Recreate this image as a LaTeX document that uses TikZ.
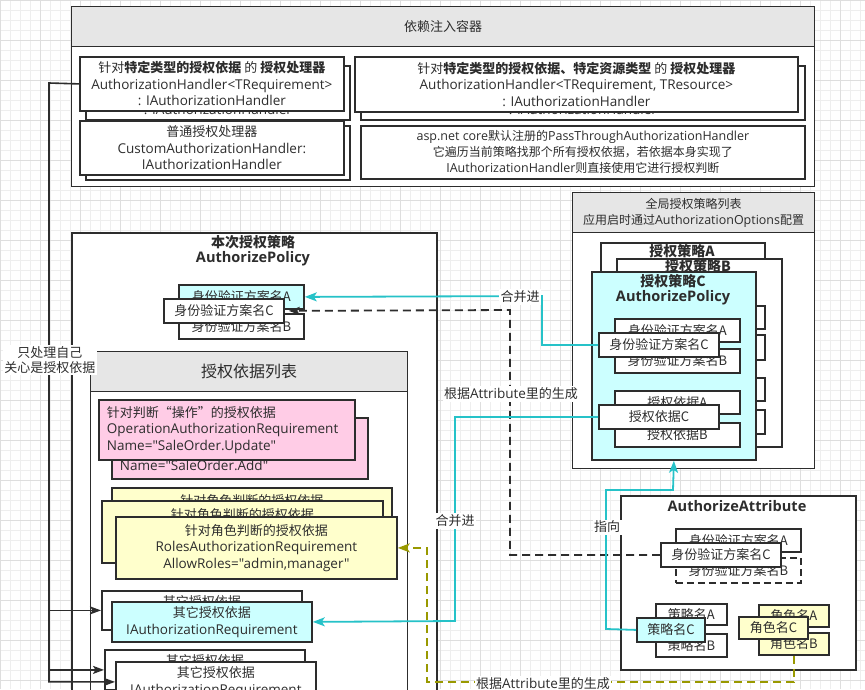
\documentclass[tikz,border=0pt]{standalone}
\usepackage{fontspec}
\setmainfont{Noto Sans CJK SC}
\newfontfamily\en{Open Sans}[Scale=1.04]
\usetikzlibrary{arrows.meta,calc}
\definecolor{ink}{RGB}{45,45,45}
\definecolor{hdr}{RGB}{230,230,230}
\definecolor{cybox}{RGB}{204,255,255}
\definecolor{pinkbox}{RGB}{255,204,230}
\definecolor{yelbox}{RGB}{255,255,204}
\definecolor{cyline}{RGB}{38,194,200}
\definecolor{olivel}{RGB}{153,153,0}
\definecolor{gridmin}{RGB}{238,238,238}
\definecolor{gridmaj}{RGB}{222,222,222}
\newcommand\EN[1]{{\en #1}}
\newcommand\bxn[6][]{\node[bx,minimum width=#4,minimum height=#5,#1] (#2) at (#3) {#6};}
\begin{document}
\begin{tikzpicture}[x=1pt,y=-1pt,
  every node/.style={font=\fontsize{13}{16.5}\selectfont, text=ink},
  bx/.style={draw=ink, line width=1.8pt, fill=white, anchor=north west, inner sep=0pt, align=center},
  ct/.style={draw=ink, line width=1.1pt, fill=white, anchor=north west, inner sep=0pt},
  hd/.style={draw=ink, line width=1.1pt, fill=hdr, anchor=north west, inner sep=0pt, align=center},
  ttl/.style={font=\fontsize{14}{17}\selectfont\bfseries, inner sep=0pt, align=center},
  lbl/.style={fill=white, inner sep=1.5pt, align=center},
  cyarr/.style={draw=cyline, line width=1.8pt, -{Stealth[length=12pt,width=9pt,inset=3pt]}},
  dkarr/.style={draw=ink, line width=1.6pt, -{Stealth[length=11pt,width=8pt,inset=2.5pt]}},
  dkdash/.style={draw=ink, line width=1.8pt, dash pattern=on 8pt off 5pt, -{Stealth[length=11pt,width=8pt,inset=2.5pt]}, shorten >=4pt},
  oldash/.style={draw=olivel, line width=1.8pt, dash pattern=on 8pt off 5pt, -{Stealth[length=12pt,width=9pt,inset=3pt]}},
  pinkl/.style={fill=pinkbox, align=left, text width=240pt, inner xsep=8pt}
]
\useasboundingbox (0,0) rectangle (865,689);
\clip (0,0) rectangle (865,689);
\fill[white] (0,0) rectangle (865,689);
\draw[gridmin, line width=0.6pt, step=10pt] (0,0) grid (865,689);
\draw[gridmaj, line width=0.6pt, step=40pt] (0,0) grid (865,689);

% ---- DI container
\node[ct,minimum width=743,minimum height=180] (di) at (71,6) {};
\node[hd,minimum width=743,minimum height=40] (dih) at (71,6) {依赖注入容器};
\bxn{h1b}{85,65}{264}{54}{针对\textbf{特定类型的授权依据} 的 \textbf{授权处理器}\\\EN{AuthorizationHandler<TRequirement>}\\\EN{: IAuthorizationHandler}}
\bxn{h1}{79,56}{264}{54}{针对\textbf{特定类型的授权依据} 的 \textbf{授权处理器}\\\EN{AuthorizationHandler<TRequirement>}\\\EN{: IAuthorizationHandler}}
\bxn{h2b}{85,125}{264}{54}{普通授权处理器\\\EN{CustomAuthorizationHandler:}\\\EN{IAuthorizationHandler}}
\bxn{h2}{79,120}{264}{54}{普通授权处理器\\\EN{CustomAuthorizationHandler:}\\\EN{IAuthorizationHandler}}
\bxn{h3b}{360,65}{444}{54}{针对\textbf{特定类型的授权依据、特定资源类型} 的 \textbf{授权处理器}\\\EN{AuthorizationHandler<TRequirement, TResource>}\\\EN{: IAuthorizationHandler}}
\bxn{h3}{354,56}{443}{55}{针对\textbf{特定类型的授权依据、特定资源类型} 的 \textbf{授权处理器}\\\EN{AuthorizationHandler<TRequirement, TResource>}\\\EN{: IAuthorizationHandler}}
\bxn[font=\fontsize{12}{16}\selectfont]{h4}{360,125}{444}{53}{\EN{asp.net core}默认注册的\EN{PassThroughAuthorizationHandler}\\它遍历当前策略找那个所有授权依据，若依据本身实现了\\\EN{IAuthorizationHandler}则直接使用它进行授权判断}

% ---- global policy list
\node[ct,minimum width=242,minimum height=276] (gl) at (572,192) {};
\node[hd,minimum width=242,minimum height=40,font=\fontsize{12}{16}\selectfont] (glh) at (572,192) {全局授权策略列表\\应用启时通过\EN{AuthorizationOptions}配置};
\bxn{pA}{600,242}{164}{190}{}
\node[ttl] (pAt) at (682,251) {授权策略A};
\bxn{pB}{616,258}{165}{188}{}
\node[ttl] (pBt) at (698,266) {授权策略B};
\bxn{bSA}{639,305}{125}{23}{身份验证方案名A}
\bxn{bSB}{639,334}{125}{25}{身份验证方案名B}
\bxn{bRA}{639,377}{125}{23}{授权依据A}
\bxn{bRB}{639,409}{125}{24}{授权依据B}
\bxn[fill=cybox]{pC}{591,271}{164}{188}{}
\node[ttl] (pCt) at (673,281) {授权策略C};
\node[ttl] (pCt2) at (673,298) {\EN{AuthorizePolicy}};
\bxn{cSA}{614,318}{125}{23}{身份验证方案名A}
\bxn{cSB}{614,348}{125}{24}{身份验证方案名B}
\bxn{cSC}{598,332}{120}{24}{身份验证方案名C}
\bxn{cRA}{614,390}{125}{23}{授权依据A}
\bxn{cRB}{614,422}{125}{24}{授权依据B}
\bxn{cRC}{598,404}{120}{24}{授权依据C}

% ---- current policy
\node[ct,line width=1.8pt,minimum width=365,minimum height=480] (cp) at (71,232) {};
\node[ttl] (cpt) at (253,242) {本次授权策略};
\node[ttl] (cpt2) at (253,259) {\EN{AuthorizePolicy}};
\bxn[fill=cybox]{pSA}{178,284}{125}{24}{身份验证方案名A}
\bxn{pSB}{178,313}{125}{25}{身份验证方案名B}
\bxn{pSC}{163,298}{120}{24}{身份验证方案名C}

% ---- requirement list
\node[ct,minimum width=317,minimum height=400] (rl) at (90,351) {};
\node[hd,minimum width=317,minimum height=40,font=\fontsize{16}{19}\selectfont] (rlh) at (90,351) {授权依据列表};
\bxn[pinkl]{rOpb}{111,417}{256}{61}{针对判断“操作”的授权依据\\\EN{OperationAuthorizationRequirement}\\\EN{Name="SaleOrder.Add"}}
\bxn[pinkl]{rOp}{98,399}{256}{60}{针对判断“操作”的授权依据\\\EN{OperationAuthorizationRequirement}\\\EN{Name="SaleOrder.Update"}}
\bxn[fill=yelbox]{rRo1}{111,487}{280}{60}{针对角色判断的授权依据\\\EN{RolesAuthorizationRequirement}\\\EN{AllowRoles="admin,manager"}}
\bxn[fill=yelbox]{rRo2}{101,500}{281}{62}{针对角色判断的授权依据\\\EN{RolesAuthorizationRequirement}\\\EN{AllowRoles="admin,manager"}}
\bxn[fill=yelbox]{rRo3}{115,516}{281}{62}{针对角色判断的授权依据\\\EN{RolesAuthorizationRequirement}\\\EN{AllowRoles="admin,manager"}}
\bxn{rOt1b}{101,590}{200}{39}{其它授权依据\\\EN{IAuthorizationRequirement}}
\bxn[fill=cybox]{rOt1}{111,601}{200}{40}{其它授权依据\\\EN{IAuthorizationRequirement}}
\bxn{rOt2b}{104,649}{200}{40}{其它授权依据\\\EN{IAuthorizationRequirement}}
\bxn{rOt2}{115,661}{200}{40}{其它授权依据\\\EN{IAuthorizationRequirement}}

% ---- AuthorizeAttribute
\node[ct,line width=2.2pt,minimum width=235,minimum height=174] (at) at (620,495) {};
\node[ttl] (att) at (737,506) {\EN{AuthorizeAttribute}};
\bxn{aSA}{675,528}{125}{23}{身份验证方案名A}
\bxn[dash pattern=on 7pt off 4pt]{aSB}{675,557}{125}{25}{身份验证方案名B}
\bxn{aSC}{660,542}{120}{24}{身份验证方案名C}
\bxn{aPA}{655,603}{71}{21}{策略名A}
\bxn{aPB}{655,633}{71}{23}{策略名B}
\bxn[fill=cybox]{aPC}{636,617}{68}{24}{策略名C}
\bxn[fill=yelbox]{aRA}{758,604}{70}{22}{角色名A}
\bxn[fill=yelbox]{aRB}{758,632}{70}{22}{角色名B}
\bxn[fill=yelbox]{aRC}{738,616}{69}{22}{角色名C}

% ---- connectors
\coordinate (lx) at (49,83);
\draw[dkarr] (h1.west) -- (lx) |- (rOt2.west);
\draw[dkarr] (lx) |- (rOt1b.west);
\draw[dkarr] (lx) |- (rOt2b.west);
\node[lbl,font=\fontsize{13}{15}\selectfont] (lbl0) at (50,360) {只处理自己\\关心是授权依据};

\coordinate (c1) at (542,296);
\draw[cyarr] (cSC.west) -| (c1) -- (pSA.east);
\node[lbl] (lb1) at (520,297) {合并进};

\coordinate (d1) at (510,310);
\draw[dkdash] (aSC.west) -| (d1) -- (pSC.east);
\node[lbl] (lb2) at (511,394) {根据\EN{Attribute}里的生成};

\coordinate (c2) at (455,621);
\draw[cyarr] (cRC.west) -| (c2) -- (rOt1.east);
\node[lbl] (lb3) at (455,521) {合并进};

\coordinate (c3a) at (606,629);
\coordinate (c3b) at (673,490);
\draw[cyarr] (aPC.west) -- (c3a) |- (c3b) -- (pC.south);
\node[lbl] (lb4) at (607,527) {指向};

\coordinate (o1) at (427,682);
\draw[oldash] (aRB.south) |- (o1) |- (rRo3.east);
\node[lbl] (lb5) at (543,684) {根据\EN{Attribute}里的生成};
\end{tikzpicture}
\end{document}
